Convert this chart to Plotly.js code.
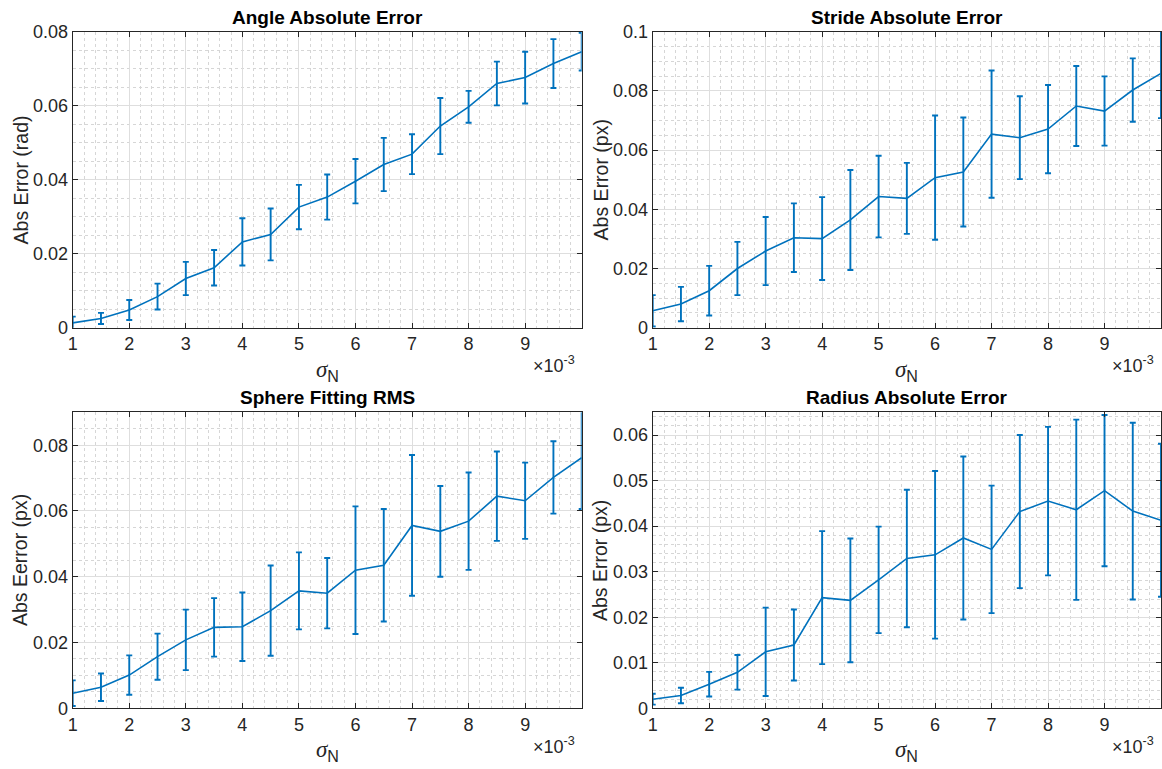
<!DOCTYPE html>
<html>
<head>
<meta charset="utf-8">
<script src="https://cdn.plot.ly/plotly-3.0.1.min.js"></script>
<style>html,body{margin:0;padding:0;background:#fff;}#chart{width:1162px;height:769px;}</style>
</head>
<body>
<div id="chart"></div>
<script>
// ---- data (sigma_N in units of 1e-3) ----
const sigma = [1, 1.5, 2, 2.5, 3, 3.5, 4, 4.5, 5, 5.5, 6, 6.5, 7, 7.5, 8, 8.5, 9, 9.5, 10];

const angleMean = [0.0013, 0.0025, 0.0048, 0.0084, 0.0133, 0.0162, 0.0232, 0.0252, 0.0326, 0.0353, 0.0396, 0.0441, 0.0469, 0.0545, 0.0597, 0.0660, 0.0676, 0.0714, 0.0746];
const angleErr  = [0.0017, 0.0015, 0.0027, 0.0035, 0.0045, 0.0048, 0.0064, 0.0070, 0.0060, 0.0061, 0.0060, 0.0072, 0.0054, 0.0076, 0.0043, 0.0059, 0.0070, 0.0066, 0.0051];

const strideMean = [0.0057, 0.0080, 0.0125, 0.0200, 0.0259, 0.0304, 0.0301, 0.0364, 0.0443, 0.0437, 0.0507, 0.0526, 0.0654, 0.0642, 0.0671, 0.0749, 0.0732, 0.0803, 0.0859];
const strideErr  = [0.0053, 0.0058, 0.0084, 0.0090, 0.0115, 0.0116, 0.0140, 0.0169, 0.0138, 0.0120, 0.0210, 0.0184, 0.0215, 0.0140, 0.0149, 0.0135, 0.0117, 0.0107, 0.0151];

const sphereMean = [0.0046, 0.0064, 0.0101, 0.0157, 0.0208, 0.0246, 0.0248, 0.0297, 0.0357, 0.0350, 0.0420, 0.0435, 0.0556, 0.0538, 0.0569, 0.0645, 0.0631, 0.0702, 0.0762];
const sphereErr  = [0.0039, 0.0042, 0.0060, 0.0070, 0.0092, 0.0089, 0.0104, 0.0137, 0.0117, 0.0107, 0.0194, 0.0171, 0.0214, 0.0138, 0.0148, 0.0136, 0.0116, 0.0110, 0.0156];

const radiusMean = [0.0020, 0.0028, 0.0053, 0.0079, 0.0124, 0.0139, 0.0243, 0.0237, 0.0282, 0.0329, 0.0337, 0.0374, 0.0349, 0.0432, 0.0455, 0.0436, 0.0478, 0.0433, 0.0413];
const radiusErr  = [0.0012, 0.0017, 0.0027, 0.0038, 0.0097, 0.0078, 0.0146, 0.0136, 0.0117, 0.0151, 0.0184, 0.0179, 0.0140, 0.0168, 0.0163, 0.0198, 0.0166, 0.0194, 0.0168];

const titles = ['Angle Absolute Error', 'Stride Absolute Error', 'Sphere Fitting RMS', 'Radius Absolute Error'];
const yTitles = ['Abs Error (rad)', 'Abs Error (px)', 'Abs Eerror (px)', 'Abs Error (px)'];
const xTickVals = [1, 2, 3, 4, 5, 6, 7, 8, 9];
const xTickText = ['1', '2', '3', '4', '5', '6', '7', '8', '9'];
const yTickVals1 = [0, 0.02, 0.04, 0.06, 0.08];
const yTickText1 = ['0', '0.02', '0.04', '0.06', '0.08'];
const yTickVals2 = [0, 0.02, 0.04, 0.06, 0.08, 0.1];
const yTickText2 = ['0', '0.02', '0.04', '0.06', '0.08', '0.1'];
const yTickVals4 = [0, 0.01, 0.02, 0.03, 0.04, 0.05, 0.06];
const yTickText4 = ['0', '0.01', '0.02', '0.03', '0.04', '0.05', '0.06'];

// ---- styling ----
const W = 1162, H = 769;
const blue = '#0072BD';
const dark = '#262626';
const font = 'Liberation Sans, Arial, Helvetica, sans-serif';
const px2x = p => p / W;
const px2y = p => 1 - p / H;

const colDom = [[px2x(72.7), px2x(581.7)], [px2x(652.7), px2x(1161)]];
const rowDom = [[px2y(327.7), px2y(31.7)], [px2y(708.3), px2y(412.3)]];

const panels = [
  {mean: angleMean, err: angleErr, range: [0, 0.08], tv: yTickVals1, tt: yTickText1, minor: 0.005, col: 0, row: 0},
  {mean: strideMean, err: strideErr, range: [0, 0.1], tv: yTickVals2, tt: yTickText2, minor: 0.005, col: 1, row: 0},
  {mean: sphereMean, err: sphereErr, range: [0, 0.09], tv: yTickVals1, tt: yTickText1, minor: 0.005, col: 0, row: 1},
  {mean: radiusMean, err: radiusErr, range: [0, 0.065], tv: yTickVals4, tt: yTickText4, minor: 0.002, col: 1, row: 1}
];

const traces = [];
const layout = {
  width: W, height: H,
  margin: {l: 0, r: 0, t: 0, b: 0},
  paper_bgcolor: '#ffffff',
  plot_bgcolor: '#ffffff',
  showlegend: false,
  font: {family: font, color: dark, size: 18},
  annotations: []
};

panels.forEach((p, i) => {
  const n = i + 1;
  const xa = n === 1 ? 'x' : 'x' + n;
  const ya = n === 1 ? 'y' : 'y' + n;
  traces.push({
    type: 'scatter', mode: 'lines',
    x: sigma, y: p.mean,
    xaxis: xa, yaxis: ya,
    line: {color: blue, width: 1.6},
    error_y: {type: 'data', array: p.err, visible: true, color: blue, thickness: 1.9, width: 3}
  });
  const common = {
    showline: true, linecolor: dark, linewidth: 1, mirror: 'ticks',
    ticks: 'inside', ticklen: 5, tickcolor: dark, tickwidth: 1,
    showgrid: true, gridcolor: '#dedede', gridwidth: 1,
    zeroline: false,
    tickfont: {family: font, size: 18, color: dark},
    fixedrange: true
  };
  layout['xaxis' + (n === 1 ? '' : n)] = Object.assign({}, common, {
    domain: colDom[p.col], anchor: ya,
    range: [1, 10],
    tickmode: 'array', tickvals: xTickVals, ticktext: xTickText,
    minor: {dtick: 0.2, tick0: 1, showgrid: true, gridcolor: '#d6d6d6', griddash: 'dot', gridwidth: 1, ticks: ''}
  });
  layout['yaxis' + (n === 1 ? '' : n)] = Object.assign({}, common, {
    domain: rowDom[p.row], anchor: xa,
    range: p.range,
    tickmode: 'array', tickvals: p.tv, ticktext: p.tt,
    minor: {dtick: p.minor, tick0: 0, showgrid: true, gridcolor: '#d6d6d6', griddash: 'dot', gridwidth: 1, ticks: ''}
  });

  const left = p.col === 0 ? 72.7 : 652.7;
  const right = p.col === 0 ? 581.7 : 1161;
  const top = p.row === 0 ? 31.7 : 412.3;
  const bottom = p.row === 0 ? 327.7 : 708.3;
  const cx = (left + right) / 2;

  // subplot title
  layout.annotations.push({
    xref: 'paper', yref: 'paper', x: px2x(cx), y: px2y(top - 14.5),
    xanchor: 'center', yanchor: 'middle', showarrow: false,
    text: '<b>' + titles[i] + '</b>', font: {family: font, size: 19, color: '#000'}
  });
  // y title
  layout.annotations.push({
    xref: 'paper', yref: 'paper', x: px2x(left - 52), y: px2y((top + bottom) / 2),
    xanchor: 'center', yanchor: 'middle', showarrow: false, textangle: -90,
    text: yTitles[i], font: {family: font, size: 19.5, color: dark}
  });
  // x title sigma_N
  layout.annotations.push({
    xref: 'paper', yref: 'paper', x: px2x(cx), y: px2y(bottom + 43),
    xanchor: 'center', yanchor: 'middle', showarrow: false,
    text: '<i>σ</i><sub><span style="font-family:Liberation Sans, Arial, sans-serif">N</span></sub>',
    font: {family: 'Liberation Serif, DejaVu Serif, serif', size: 23, color: dark}
  });
  // exponent
  layout.annotations.push({
    xref: 'paper', yref: 'paper', x: px2x(right - 5), y: px2y(bottom + 37),
    xanchor: 'right', yanchor: 'middle', showarrow: false,
    text: '×10<sup>-3</sup>', font: {family: font, size: 18, color: dark}
  });
});

Plotly.newPlot('chart', traces, layout, {staticPlot: true, displayModeBar: false});
</script>
</body>
</html>
